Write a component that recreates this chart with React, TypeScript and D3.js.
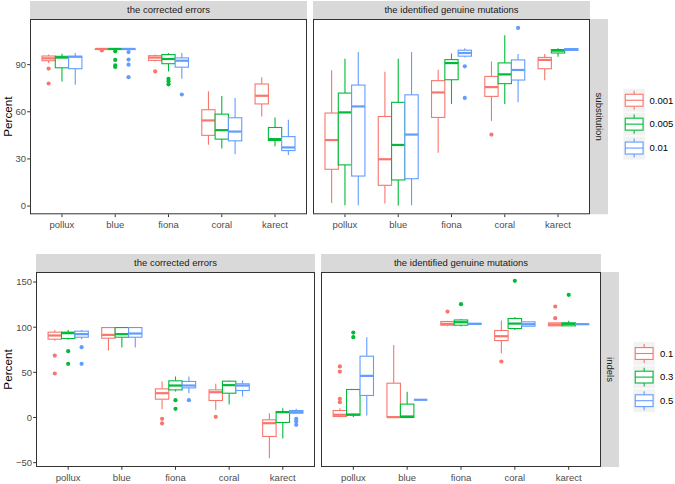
import React from "react";
import * as d3 from "d3";

// ---------- data ----------
const CATEGORIES = ["pollux", "blue", "fiona", "coral", "karect"];
const PANEL_TITLES = ["the corrected errors", "the identified genuine mutations"];
const SUB_LEVELS = ["0.001", "0.005", "0.01"];
const INDEL_LEVELS = ["0.1", "0.3", "0.5"];
const ROW_LABELS = ["substitution", "indels"];
const SUB_TICKS = [0, 30, 60, 90];
const INDEL_TICKS = [-50, 0, 50, 100, 150];
const COLORS = ["#F8766D", "#00BA38", "#619CFF"];

// box stats per category: [lower whisker, q1, median, q3, upper whisker]
const subErr001 = [[91, 92.5, 94, 95.5, 96.5], [99.4, 99.6, 100, 100, 100], [92, 92.7, 94.5, 95.7, 96.5], [39, 45, 54.5, 61.3, 73], [57, 65, 70.2, 77.7, 82]];
const subErr005 = [[79.3, 88, 94.5, 95.3, 97], [99.4, 99.6, 100, 100, 100], [85.7, 90.6, 93.6, 96.4, 97.4], [36.7, 42.6, 48.3, 58.5, 70], [38, 41.7, 42.6, 50, 56.4]];
const subErr01 = [[77.2, 87.4, 95, 95.3, 97.4], [99.4, 99.6, 100, 100, 100], [81, 88.4, 92.5, 94.3, 97.4], [33, 41.5, 47.4, 56.2, 68.8], [32.5, 35.3, 37.3, 44.2, 55]];
const subMut001 = [[2, 23.4, 42, 59.2, 86.4], [1.7, 13.2, 29.8, 57, 85.5], [34, 56.4, 72.3, 79.8, 86.8], [54.2, 69.8, 75.7, 82.5, 92], [80, 87.4, 93, 94.6, 96.8]];
const subMut005 = [[0.5, 26.2, 59.6, 71.9, 93.8], [0.4, 16.6, 38.9, 66, 93.8], [65, 80.4, 91, 93.2, 97], [65, 77.9, 83.8, 91.1, 108.7], [95, 97.4, 98.9, 99.6, 100.5]];
const subMut01 = [[0.5, 19.1, 63.4, 77, 98], [0.5, 17.4, 45.5, 70.8, 98], [94.5, 95.4, 97.4, 99.2, 100.5], [66, 80.2, 86.6, 93, 96.8], [99, 99.1, 99.6, 100.2, 100.5]];

// outliers: [category index, value]
const subErrOut001 = [[0, 87.5], [0, 78], [1, 99], [2, 85.7]];
const subErrOut005 = [[1, 98.5], [1, 93], [1, 89.5], [1, 88.5], [2, 81], [2, 79.5], [2, 77.5]];
const subErrOut01 = [[1, 98], [1, 93.2], [1, 90], [1, 82], [2, 71]];
const subMutOut001 = [[3, 45.5]];
const subMutOut005: number[][] = [];
const subMutOut01 = [[2, 88.9], [2, 68.8], [3, 113.4]];

const indErr01 = [[84.9, 86.7, 90.8, 94.5, 97], [74.2, 87.8, 91.5, 99.6, 99.6], [9.2, 20.3, 26.9, 31.7, 39.9], [8.5, 18.8, 28, 30.6, 37.3], [-45, -21, -6.3, -2.6, 4.8]];
const indErr03 = [[86, 87.5, 93.4, 94.5, 97], [77.5, 88.9, 92.3, 99.6, 99.6], [28.8, 30.6, 35.4, 40.6, 45.4], [14.4, 26.9, 35.8, 40.2, 41], [-23.2, -5.5, 5.9, 6.6, 10.3]];
const indErr05 = [[86.7, 88.9, 92.3, 95.6, 97], [77.5, 88.9, 93, 99.6, 99.6], [26.9, 32.8, 35.4, 39.9, 45.4], [23.2, 29.9, 35.4, 37.3, 41], [4.8, 4.8, 5.9, 7.7, 9.6]];
const indMut01 = [[0.4, 1.1, 3, 7.7, 10.3], [0.4, 0.4, 0.4, 38, 80.4], [101, 102.2, 103.7, 106.3, 107], [71.2, 85.2, 90, 96.3, 107.4], [101.5, 101.5, 103, 104.8, 104.8]];
const indMut03 = [[0.4, 2.6, 3.3, 31, 31], [0, 0, 1.1, 14.8, 28.4], [100.7, 102.2, 105.5, 108, 109.2], [97, 98.5, 104, 109.6, 111.4], [101.5, 101.5, 103.7, 104.8, 107]];
const indMut05 = [[2.2, 24.4, 46.1, 67.9, 88.9], [19.6, 19.6, 19.6, 19.6, 19.6], [103, 103.2, 103.7, 104.2, 104.5], [101.1, 101.1, 103.3, 105.9, 105.9], [103, 103.1, 103.3, 103.5, 103.6]];

const indErrOut01 = [[0, 68.6], [0, 48.7], [2, -1.5], [2, -6.6], [3, 0.7]];
const indErrOut03 = [[0, 73.4], [0, 59.4], [2, 19.2], [2, 9.6]];
const indErrOut05 = [[0, 77.9], [0, 59.4], [2, 19.2], [4, -1.5], [4, -4.4], [4, -8.1]];
const indMutOut01 = [[0, 56.5], [0, 50.9], [0, 20.7], [0, 17], [2, 117.3], [3, 62], [4, 122.9], [4, 110]];
const indMutOut03 = [[0, 94], [0, 88.9], [2, 125.5], [3, 151.3], [4, 135.8]];
const indMutOut05: number[][] = [];

// ---------- layout ----------
const FONT = "'Liberation Sans', Arial, Helvetica, sans-serif";
const TOP_LAYOUT = {
  panelX: [[30, 307], [313, 590]],
  stripTop: 1,
  panelTop: 19,
  panelBottom: 214.3,
  rightStrip: [590, 608],
  titleX: 8,
  xLabelY: 228,
  legendX: 623,
  legendY: 88.3,
  keyW: 22.3,
  keyH: 23.9,
  legendLabelX: 649.5,
};
const BOTTOM_LAYOUT = {
  panelX: [[36, 315], [321, 601]],
  stripTop: 254,
  panelTop: 272,
  panelBottom: 467,
  rightStrip: [601, 619],
  titleX: 8,
  xLabelY: 480.5,
  legendX: 633,
  legendY: 341.7,
  keyW: 22.3,
  keyH: 23.6,
  legendLabelX: 660,
};

function extent(panels: any[]) {
  const vals: number[] = [];
  panels.forEach((p) => {
    p.series.forEach((s: number[][]) => s.forEach((b) => vals.push(b[0], b[4])));
    p.outliers.forEach((o: number[][]) => o.forEach((d) => vals.push(d[1])));
  });
  const [mn, mx] = d3.extent(vals) as [number, number];
  const pad = (mx - mn) * 0.05;
  return [mn - pad, mx + pad];
}

function Figure({ L, panels, levels, rowLabel, yTicks }: any) {
  const domain = extent(panels);
  const y = d3.scaleLinear().domain(domain).range([L.panelBottom, L.panelTop]);
  const n = levels.length;
  return (
    <g>
      {panels.map((p: any, pi: number) => {
        const [x0, x1] = L.panelX[pi];
        const x = d3.scalePoint<string>().domain(CATEGORIES).range([x0, x1]).padding(0.6);
        const bw = (x.step() * 0.75) / n;
        return (
          <g key={pi}>
            <rect x={x0} y={L.stripTop} width={x1 - x0} height={L.panelTop - L.stripTop} fill="#D9D9D9" />
            <text x={(x0 + x1) / 2} y={(L.stripTop + L.panelTop) / 2} dy="0.35em" textAnchor="middle"
              fontSize={9.5} fill="#1A1A1A" fontFamily={FONT}>{p.title}</text>
            <rect x={x0} y={L.panelTop} width={x1 - x0} height={L.panelBottom - L.panelTop} fill="#FFFFFF" />
            {p.series.map((s: number[][], si: number) => (
              <g key={si}>
                {s.map((b, ci) => {
                  const cx = (x(CATEGORIES[ci]) as number) + (si - (n - 1) / 2) * bw;
                  const left = cx - bw / 2;
                  const [lo, q1, med, q3, hi] = b;
                  return (
                    <g key={ci} stroke={COLORS[si]} fill="none">
                      <line x1={cx} x2={cx} y1={y(hi)} y2={y(q3)} strokeWidth={1.1} />
                      <line x1={cx} x2={cx} y1={y(q1)} y2={y(lo)} strokeWidth={1.1} />
                      <rect x={left} y={y(q3)} width={bw} height={Math.max(0, y(q1) - y(q3))} fill="#FFFFFF" strokeWidth={1.1} />
                      <line x1={left} x2={left + bw} y1={y(med)} y2={y(med)} strokeWidth={2.2} />
                    </g>
                  );
                })}
                {p.outliers[si].map((o: number[], oi: number) => {
                  const cx = (x(CATEGORIES[o[0]]) as number) + (si - (n - 1) / 2) * bw;
                  return <circle key={oi} cx={cx} cy={y(o[1])} r={2.1} fill={COLORS[si]} />;
                })}
              </g>
            ))}
            <rect x={x0 + 0.5} y={L.panelTop + 0.5} width={x1 - x0 - 1} height={L.panelBottom - L.panelTop - 1}
              fill="none" stroke="#333333" strokeWidth={1} />
            {CATEGORIES.map((c) => (
              <g key={c}>
                <line x1={x(c)} x2={x(c)} y1={L.panelBottom} y2={L.panelBottom + 2.8} stroke="#333333" strokeWidth={1} />
                <text x={x(c)} y={L.xLabelY} textAnchor="middle" fontSize={9.5} fill="#4D4D4D" fontFamily={FONT}>{c}</text>
              </g>
            ))}
            {pi === 0 && yTicks.map((t: number) => (
              <g key={t}>
                <line x1={x0 - 2.8} x2={x0} y1={y(t)} y2={y(t)} stroke="#333333" strokeWidth={1} />
                <text x={x0 - 4} y={y(t)} dy="0.35em" textAnchor="end" fontSize={9.5} fill="#4D4D4D" fontFamily={FONT}>
                  {t < 0 ? "\u2212" + Math.abs(t) : t}
                </text>
              </g>
            ))}
          </g>
        );
      })}
      <rect x={L.rightStrip[0]} y={L.panelTop} width={L.rightStrip[1] - L.rightStrip[0]}
        height={L.panelBottom - L.panelTop} fill="#D9D9D9" />
      <text transform={`translate(${(L.rightStrip[0] + L.rightStrip[1]) / 2},${(L.panelTop + L.panelBottom) / 2}) rotate(90)`}
        dy="0.35em" textAnchor="middle" fontSize={9.5} fill="#1A1A1A" fontFamily={FONT}>{rowLabel}</text>
      <text transform={`translate(${L.titleX},${(L.panelTop + L.panelBottom) / 2}) rotate(-90)`}
        dy="0.35em" textAnchor="middle" fontSize={11.7} fill="#000000" fontFamily={FONT}>Percent</text>
      {levels.map((lv: string, li: number) => {
        const ky = L.legendY + li * L.keyH;
        const kx = L.legendX;
        const w = L.keyW, h = L.keyH;
        return (
          <g key={lv}>
            <rect x={kx} y={ky} width={w} height={h} fill="#F2F2F2" stroke="#FFFFFF" strokeWidth={0.8} />
            <g stroke={COLORS[li]} fill="none" strokeWidth={1.1}>
              <line x1={kx + w / 2} x2={kx + w / 2} y1={ky + h * 0.1} y2={ky + h * 0.25} />
              <line x1={kx + w / 2} x2={kx + w / 2} y1={ky + h * 0.75} y2={ky + h * 0.9} />
              <rect x={kx + w * 0.1} y={ky + h * 0.25} width={w * 0.8} height={h * 0.5} fill="#FFFFFF" />
              <line x1={kx + w * 0.1} x2={kx + w * 0.9} y1={ky + h / 2} y2={ky + h / 2} />
            </g>
            <text x={L.legendLabelX} y={ky + h / 2} dy="0.35em" fontSize={9.5} fill="#000000" fontFamily={FONT}>{lv}</text>
          </g>
        );
      })}
    </g>
  );
}

export default function App() {
  const topPanels = [
    { title: PANEL_TITLES[0], series: [subErr001, subErr005, subErr01], outliers: [subErrOut001, subErrOut005, subErrOut01] },
    { title: PANEL_TITLES[1], series: [subMut001, subMut005, subMut01], outliers: [subMutOut001, subMutOut005, subMutOut01] },
  ];
  const bottomPanels = [
    { title: PANEL_TITLES[0], series: [indErr01, indErr03, indErr05], outliers: [indErrOut01, indErrOut03, indErrOut05] },
    { title: PANEL_TITLES[1], series: [indMut01, indMut03, indMut05], outliers: [indMutOut01, indMutOut03, indMutOut05] },
  ];
  return (
    <svg width={675} height={484} style={{ position: "absolute", left: 0, top: 0, display: "block", background: "#FFFFFF" }}>
      <rect width={675} height={484} fill="#FFFFFF" />
      <Figure L={TOP_LAYOUT} panels={topPanels} levels={SUB_LEVELS} rowLabel={ROW_LABELS[0]} yTicks={SUB_TICKS} />
      <Figure L={BOTTOM_LAYOUT} panels={bottomPanels} levels={INDEL_LEVELS} rowLabel={ROW_LABELS[1]} yTicks={INDEL_TICKS} />
    </svg>
  );
}
